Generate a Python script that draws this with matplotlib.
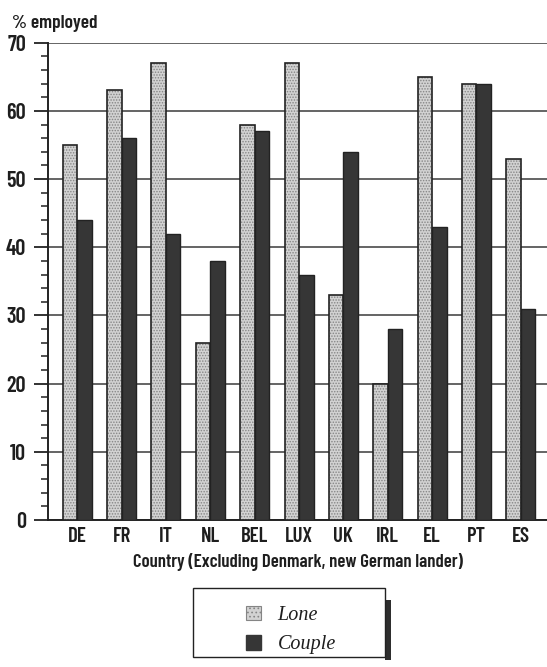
import matplotlib
matplotlib.use("Agg")
import matplotlib.pyplot as plt
import numpy as np
from matplotlib.patches import Patch, Rectangle
from matplotlib.ticker import MultipleLocator

countries = ["DE", "FR", "IT", "NL", "BEL", "LUX", "UK", "IRL", "EL", "PT", "ES"]
lone = [55, 63, 67, 26, 58, 67, 33, 20, 65, 64, 53]
couple = [44, 56, 42, 38, 57, 36, 54, 28, 43, 64, 31]
yticks = [0, 10, 20, 30, 40, 50, 60, 70]

cond = ["Barlow Condensed", "Roboto Condensed", "DejaVu Sans"]
serif = ["Liberation Serif", "DejaVu Serif"]
TXT = "#1e1e1e"

LONE_FACE = "#d2d2d2"
LONE_HATCH = "#858585"
COUPLE = "#363636"
EDGE = "#222222"

W, H = 547, 667
fig = plt.figure(figsize=(W/100, H/100), dpi=100)
ax = fig.add_axes([48.3/W, (H-520)/H, 1 - 48.3/W, (520-42.7)/H])

x = np.arange(len(countries))
w = 0.327
plt.rcParams['hatch.linewidth'] = 0.7
ax.bar(x - w/2, lone, w, color=LONE_FACE, edgecolor=LONE_HATCH, hatch="......", linewidth=0, zorder=3)
ax.bar(x - w/2, lone, w, fill=False, edgecolor=EDGE, linewidth=1.2, zorder=4)
ax.bar(x + w/2, couple, w, color=COUPLE, edgecolor=EDGE, linewidth=1.0, zorder=3)

ax.set_xlim(-0.654, 10.593)
ax.set_ylim(0, 70)
ax.set_yticks(yticks)
ax.yaxis.set_minor_locator(MultipleLocator(2))
ax.grid(axis="y", color="#3a3a3a", linewidth=1.1, zorder=0)
for s in ["top", "right"]:
    ax.spines[s].set_visible(False)
for s in ["left", "bottom"]:
    ax.spines[s].set_linewidth(1.4)
    ax.spines[s].set_color(EDGE)
ax.tick_params(axis="y", which="major", length=10, width=1.3, direction="out", color=EDGE, pad=6)
ax.tick_params(axis="y", which="minor", length=5, width=1.1, direction="out", color=EDGE)
ax.tick_params(axis="x", length=0, pad=5)
ax.set_xticks(x)
ax.set_xticklabels(countries, fontfamily=cond, fontweight="semibold", fontsize=15, color=TXT)
for lab in ax.get_yticklabels():
    lab.set_fontfamily(cond)
    lab.set_fontweight("semibold")
    lab.set_fontsize(16)
    lab.set_color(TXT)

ax.set_xlabel("Country (Excluding Denmark, new German lander)", fontfamily=cond,
              fontweight="semibold", fontsize=13.5, color=TXT, labelpad=5)
fig.text(12/W, 1 - 24/H, "% employed", fontfamily=cond, fontweight="semibold",
         fontsize=14, color=TXT, va="center", ha="left")

# legend box with right-side shadow
fig.patches.append(Rectangle((385/W, 1 - 660/H), 6/W, 60/H, transform=fig.transFigure,
                             facecolor="#2e2e2e", edgecolor="none", zorder=1))
fig.patches.append(Rectangle((193/W, 1 - 657/H), 192/W, 69/H, transform=fig.transFigure,
                             facecolor="white", edgecolor=EDGE, linewidth=1.0, zorder=2))
handles = [Patch(facecolor=LONE_FACE, edgecolor=LONE_HATCH, hatch="....", linewidth=0.8),
           Patch(facecolor=COUPLE, edgecolor=COUPLE)]
leg = fig.legend(handles, ["Lone", "Couple"], loc="center",
                 bbox_to_anchor=(291/W, 1 - 630/H), frameon=False,
                 prop={"family": serif, "style": "italic", "size": 14.5},
                 handlelength=0.75, handleheight=0.75, handletextpad=0.8,
                 borderpad=0.2, labelspacing=0.5, borderaxespad=0)
leg.set_zorder(5)
for t in leg.get_texts():
    t.set_color(TXT)

fig.savefig("out.png", dpi=100)
